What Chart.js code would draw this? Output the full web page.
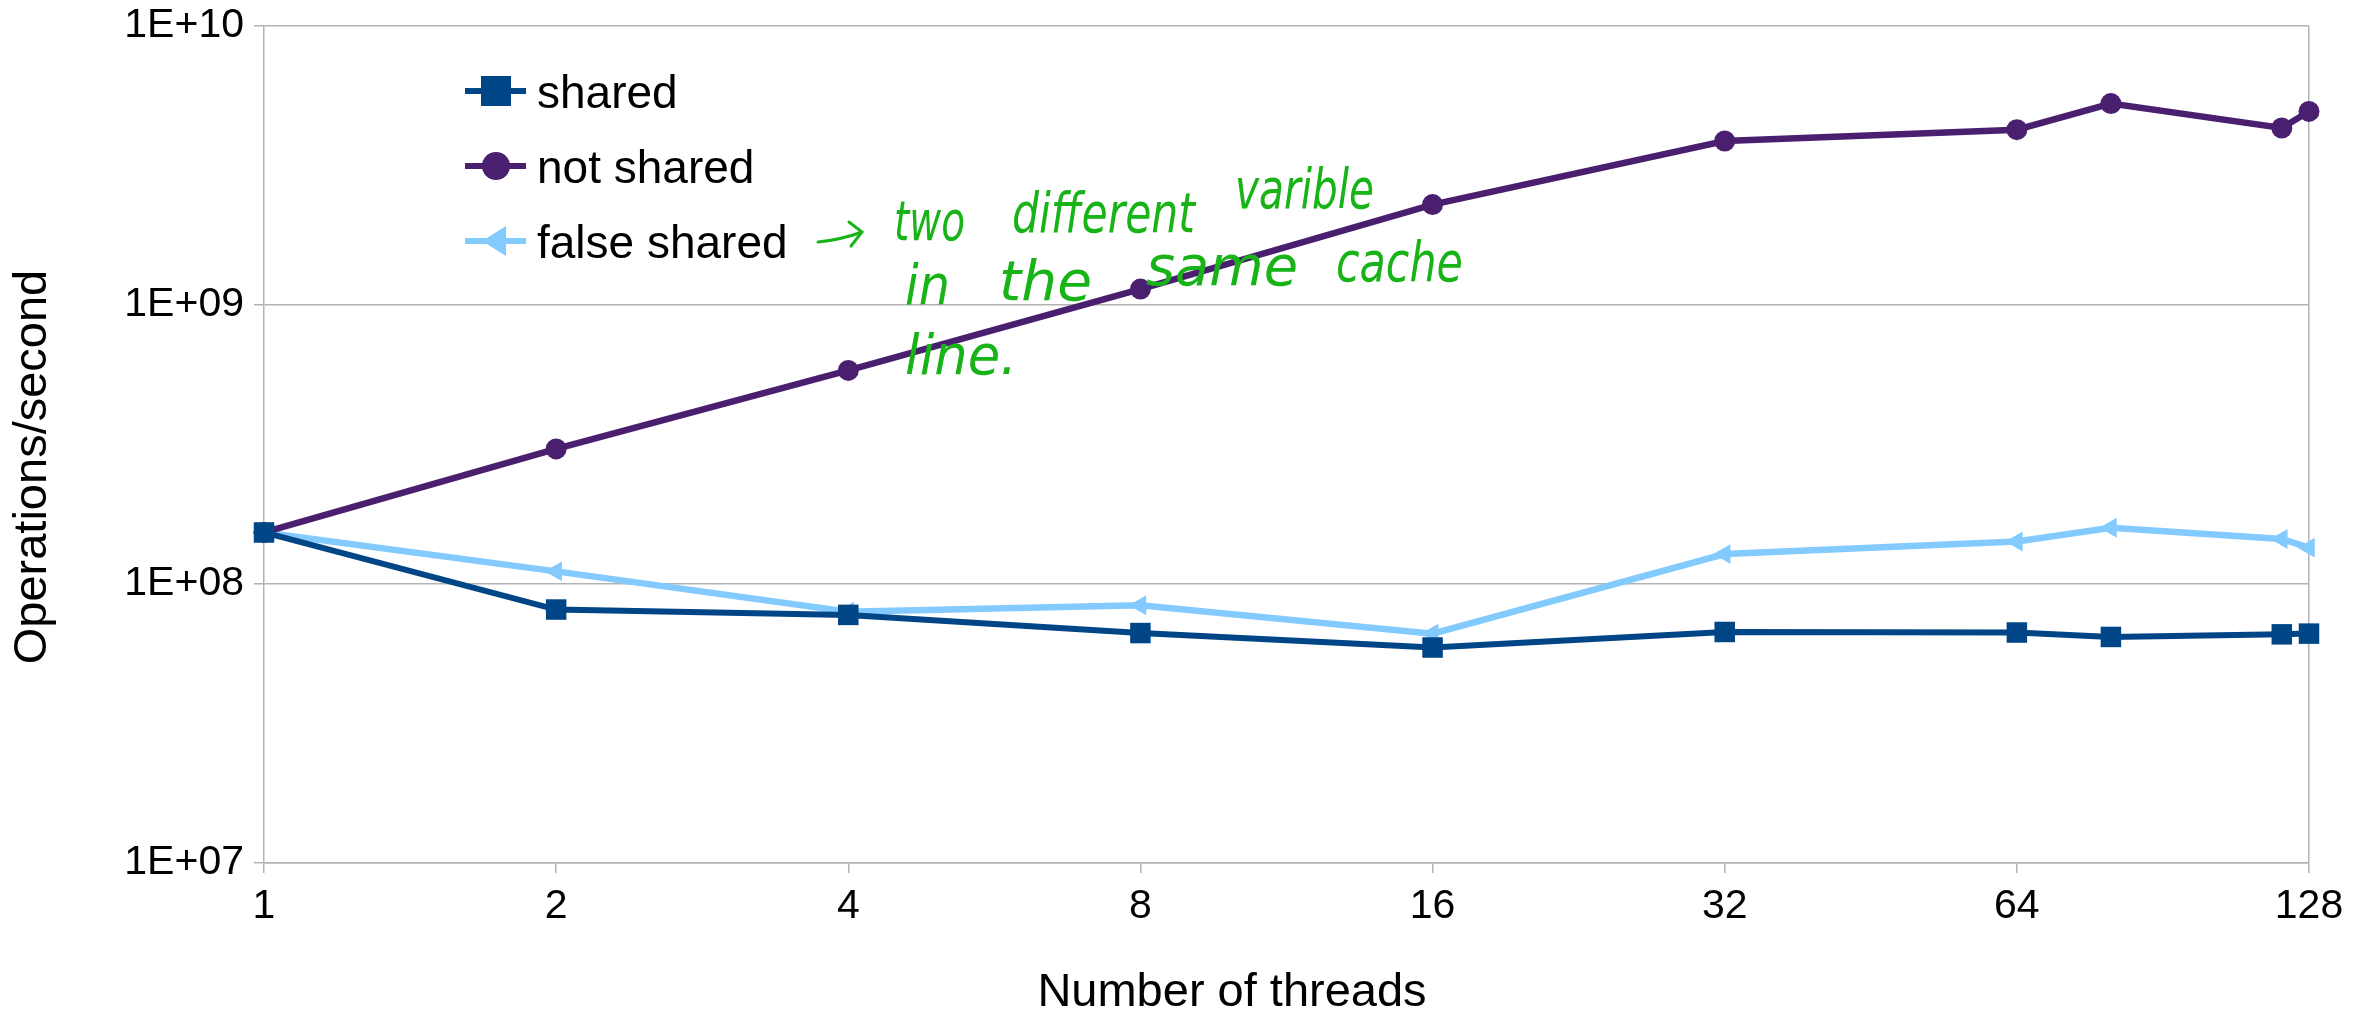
<!DOCTYPE html>
<html>
<head>
<meta charset="utf-8">
<script src="https://cdn.jsdelivr.net/npm/chart.js@4/dist/chart.umd.min.js"></script>
<style>
  html, body { margin: 0; padding: 0; background: #ffffff; }
  #wrap { width: 2369px; height: 1012px; }
</style>
</head>
<body>
<div id="wrap"><canvas id="c" width="2369" height="1012"></canvas></div>
<script>
// ---- data ----
const threads = [1, 2, 4, 8, 16, 32, 64, 80, 120, 128];
const sharedOps = [1.53e8, 8.1e7, 7.75e7, 6.67e7, 5.92e7, 6.73e7, 6.70e7, 6.46e7, 6.60e7, 6.64e7];
const notSharedOps = [1.53e8, 3.05e8, 5.83e8, 1.14e9, 2.29e9, 3.87e9, 4.25e9, 5.27e9, 4.31e9, 4.94e9];
const falseSharedOps = [1.53e8, 1.11e8, 7.95e7, 8.39e7, 6.64e7, 1.28e8, 1.42e8, 1.59e8, 1.45e8, 1.35e8];
const xTickValues = [1, 2, 4, 8, 16, 32, 64, 128];
const yTickValues = [1e7, 1e8, 1e9, 1e10];
const yTickLabels = ['1E+07', '1E+08', '1E+09', '1E+10'];
const seriesNames = ['shared', 'not shared', 'false shared'];
const xTitle = 'Number of threads';
const yTitle = 'Operations/second';
const noteWords = [
  ['two', 'different', 'varible'],
  ['in', 'the', 'same', 'cache'],
  ['line.']
];

const COLORS = ['#004586', '#4b1f6f', '#83caff'];
const GRID = '#b3b3b3';
const FONT = '"Liberation Sans", Arial, sans-serif';

const toPts = arr => threads.map((t, i) => ({ x: t, y: arr[i] }));

const datasets = [
  { label: seriesNames[0], data: toPts(sharedOps), borderColor: COLORS[0], backgroundColor: COLORS[0],
    pointStyle: 'rect', pointRadius: 14.5, borderWidth: 6, pointBorderWidth: 0, clip: false },
  { label: seriesNames[1], data: toPts(notSharedOps), borderColor: COLORS[1], backgroundColor: COLORS[1],
    pointStyle: 'circle', pointRadius: 10.5, borderWidth: 6.5, pointBorderWidth: 0, clip: false },
  { label: seriesNames[2], data: toPts(falseSharedOps), borderColor: COLORS[2], backgroundColor: COLORS[2],
    pointStyle: 'triangle', pointRotation: -90, pointRadius: 11.5, borderWidth: 6.5, pointBorderWidth: 0, clip: false }
];

// custom overlay: legend, axis titles, handwritten note
const overlay = {
  id: 'overlay',
  afterDraw(chart) {
    const ctx = chart.ctx;
    ctx.save();
    // legend
    const legendY = [91, 166, 241];
    const styles = ['rect', 'circle', 'triangle'];
    for (let i = 0; i < 3; i++) {
      const y = legendY[i];
      ctx.strokeStyle = COLORS[i];
      ctx.lineWidth = 6;
      ctx.beginPath(); ctx.moveTo(465, y); ctx.lineTo(526, y); ctx.stroke();
      ctx.fillStyle = COLORS[i];
      ctx.beginPath();
      if (styles[i] === 'rect') {
        ctx.rect(481, y - 15, 30, 30);
      } else if (styles[i] === 'circle') {
        ctx.arc(496, y, 14, 0, Math.PI * 2);
      } else {
        ctx.moveTo(482, y); ctx.lineTo(506, y - 15); ctx.lineTo(506, y + 15); ctx.closePath();
      }
      ctx.fill();
      ctx.fillStyle = '#000';
      ctx.font = '46px ' + FONT;
      ctx.textAlign = 'left';
      ctx.textBaseline = 'alphabetic';
      ctx.fillText(seriesNames[i], 537, y + 17);
    }
    // axis titles
    ctx.fillStyle = '#000';
    ctx.font = '47px ' + FONT;
    ctx.textAlign = 'center';
    ctx.textBaseline = 'alphabetic';
    ctx.fillText(xTitle, 1232, 1006);
    ctx.save();
    ctx.translate(46, 467);
    ctx.rotate(-Math.PI / 2);
    ctx.fillText(yTitle, 0, 0);
    ctx.restore();
    // handwritten note
    const green = '#17b317';
    ctx.strokeStyle = green;
    ctx.lineWidth = 3;
    ctx.lineCap = 'round';
    ctx.beginPath();
    ctx.moveTo(818, 242); ctx.quadraticCurveTo(840, 240, 862, 232);
    ctx.moveTo(849, 222); ctx.lineTo(862, 232); ctx.lineTo(851, 246);
    ctx.stroke();
    const place = [
      [[894, 965, 240], [1012, 1195, 232], [1235, 1374, 208]],
      [[905, 950, 304], [999, 1092, 300], [1146, 1298, 285], [1336, 1463, 281]],
      [[905, 1017, 374]]
    ];
    ctx.fillStyle = green;
    ctx.font = 'italic 56px "DejaVu Sans", sans-serif';
    ctx.textAlign = 'left';
    noteWords.forEach((line, li) => {
      line.forEach((w, wi) => {
        const p = place[li][wi];
        const target = p[1] - p[0];
        const m = ctx.measureText(w).width;
        ctx.save();
        ctx.translate(p[0], p[2]);
        ctx.scale(target / m, 1);
        ctx.fillText(w, 0, 0);
        ctx.restore();
      });
    });
    ctx.restore();
  }
};

new Chart(document.getElementById('c'), {
  type: 'line',
  data: { datasets },
  plugins: [overlay],
  options: {
    responsive: false,
    animation: false,
    devicePixelRatio: 1,
    layout: { padding: { left: 0, right: 60, top: 26, bottom: 0 } },
    plugins: { legend: { display: false }, tooltip: { enabled: false } },
    elements: { line: { tension: 0 } },
    scales: {
      x: {
        type: 'logarithmic',
        min: 1, max: 128,
        afterBuildTicks: s => { s.ticks = xTickValues.map(v => ({ value: v })); },
        afterFit: s => { s.height = 149; s.paddingLeft = 0; s.paddingRight = 0; },
        ticks: {
          autoSkip: false, maxRotation: 0, padding: 9,
          color: '#000', font: { family: FONT, size: 41 },
          callback: v => String(v)
        },
        grid: {
          color: c => (c.tick && c.tick.value === 128) ? GRID : 'rgba(0,0,0,0)',
          tickColor: GRID, tickLength: 10, lineWidth: 1.5, drawTicks: true
        },
        border: { display: true, color: GRID, width: 1.5 }
      },
      y: {
        type: 'logarithmic',
        min: 1e7, max: 1e10,
        afterBuildTicks: s => { s.ticks = yTickValues.map(v => ({ value: v })); },
        afterFit: s => { s.width = 264; s.paddingTop = 0; s.paddingBottom = 0; },
        ticks: {
          autoSkip: false, padding: 10,
          color: '#000', font: { family: FONT, size: 41 },
          callback: v => yTickLabels[yTickValues.indexOf(v)] || ''
        },
        grid: { color: GRID, tickColor: GRID, tickLength: 10, lineWidth: 1.5 },
        border: { display: true, color: GRID, width: 1.5 }
      }
    }
  }
});
</script>
</body>
</html>
